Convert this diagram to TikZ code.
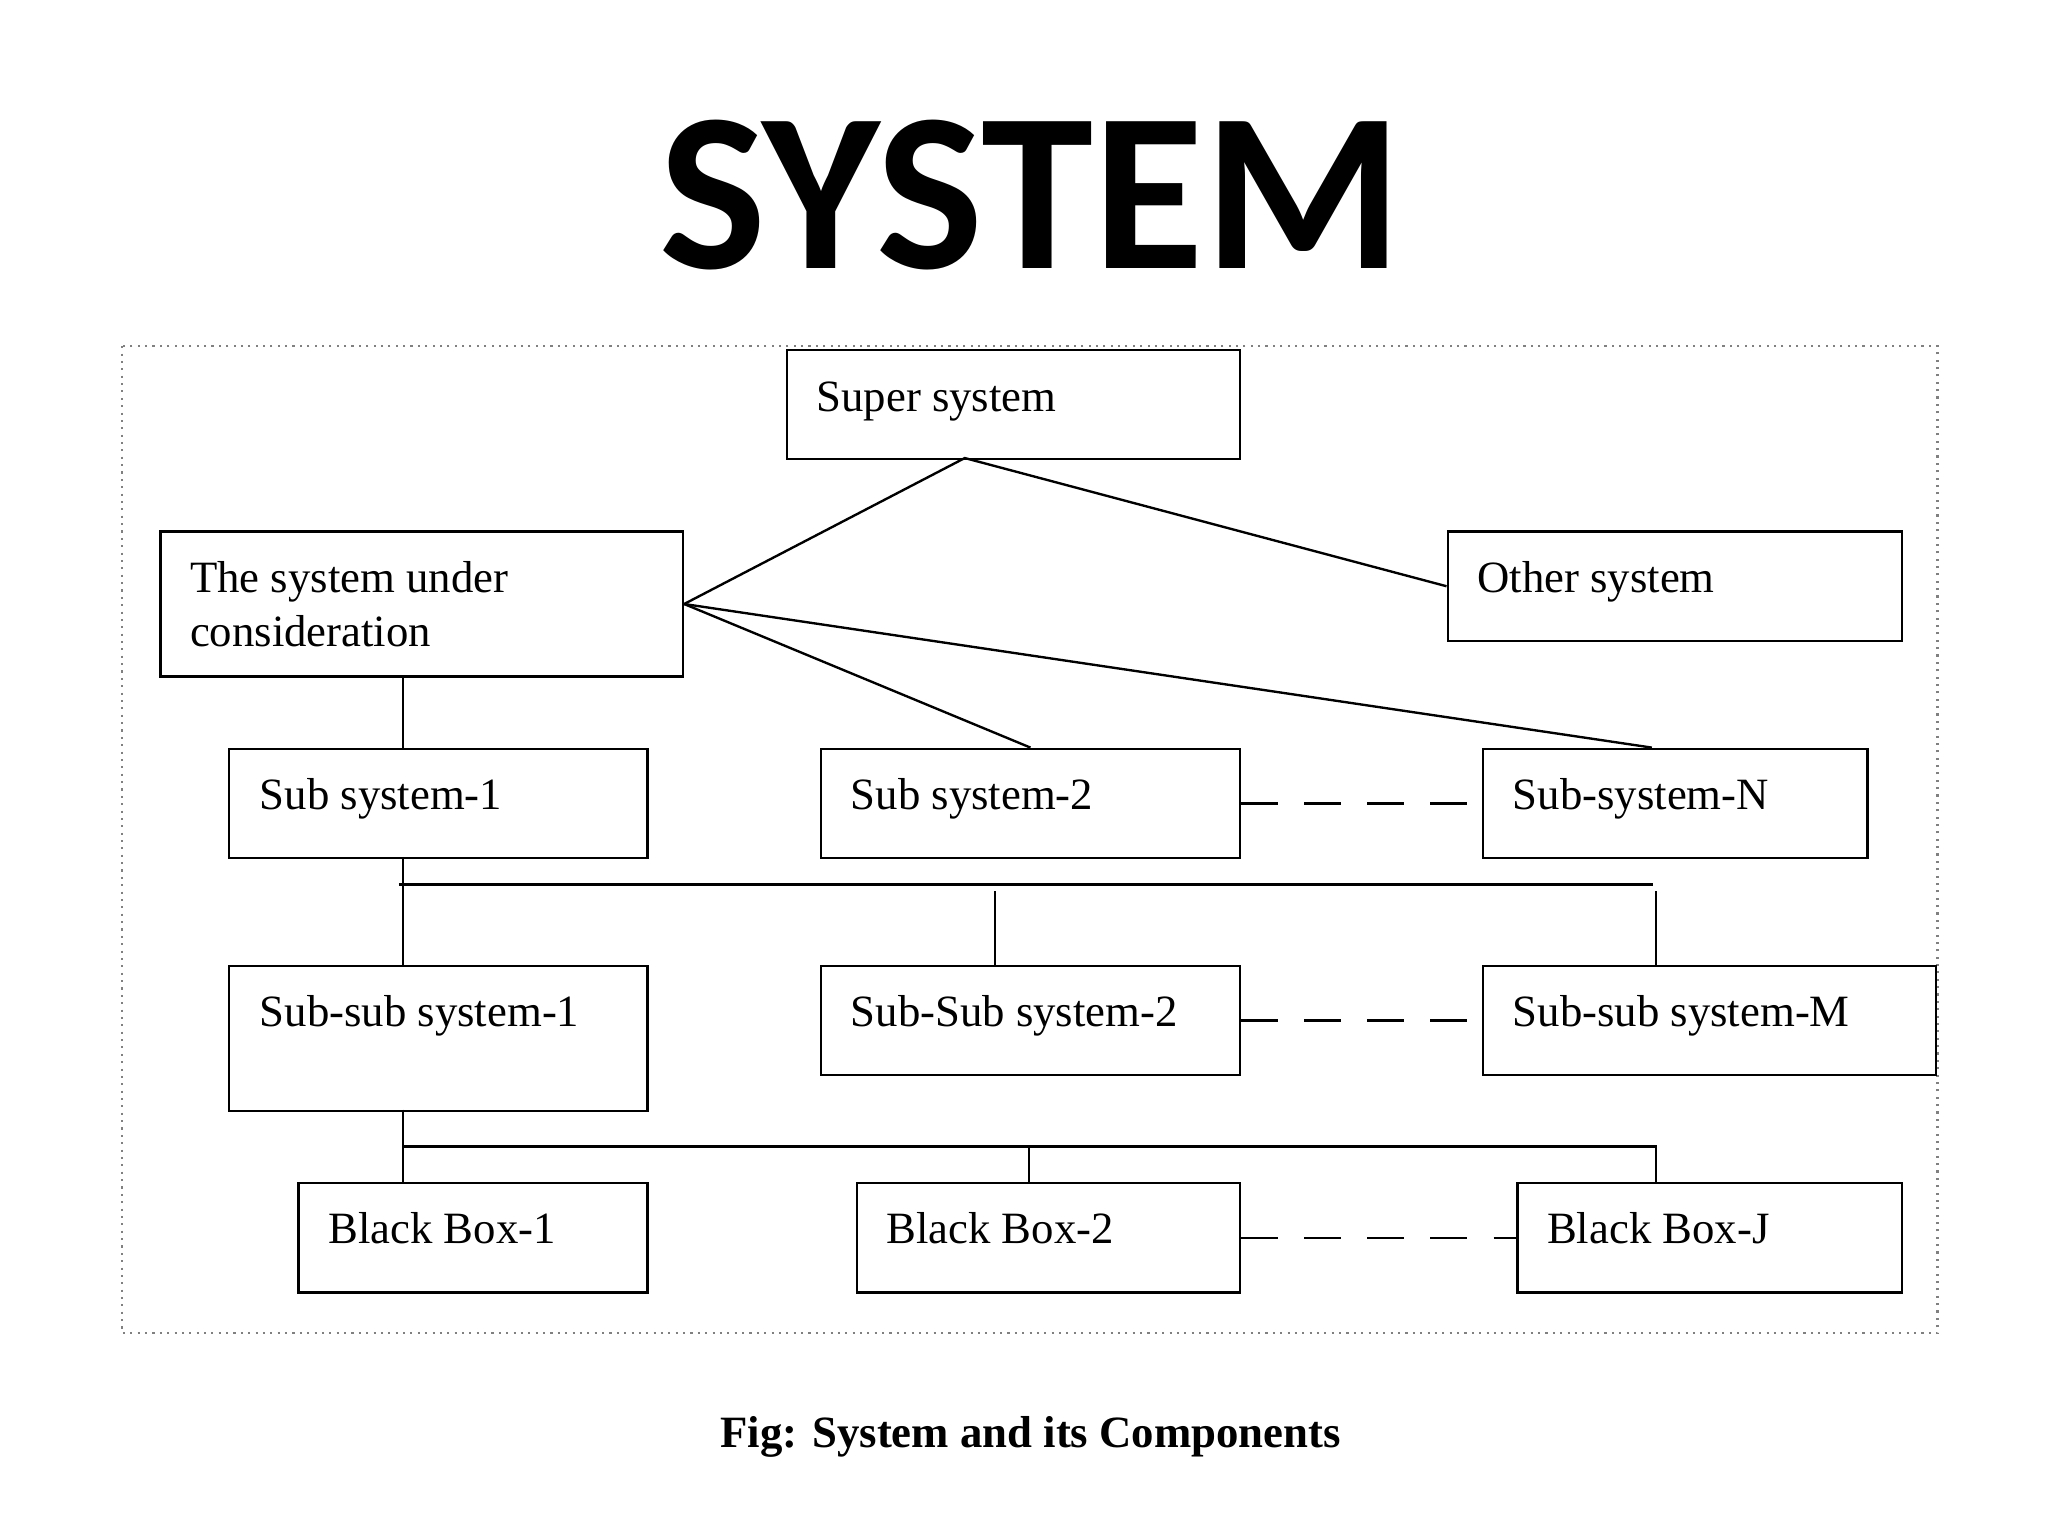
\documentclass[tikz,border=0pt]{standalone}
\usepackage{fontspec}
\setmainfont{Liberation Serif}
\newfontfamily\titlefont{Carlito}
\begin{document}
\begin{tikzpicture}[x=0.5pt,y=-0.5pt,
  box/.style={draw, line width=0.9pt, inner sep=0pt, anchor=north west},
  lbl/.style={anchor=base west, inner sep=0pt, font=\fontsize{17}{21}\selectfont},
  wire/.style={line width=0.9pt},
  gap/.style={wire, dash pattern=on 14pt off 10pt}]
\useasboundingbox (0,0) rectangle (1556,1167);

% title
\node (title) at (783,148) {\titlefont\bfseries\fontsize{86}{90}\selectfont SYSTEM};
% frame
\draw[gray, dotted, line width=0.8pt] (93,263) rectangle (1472,1013);

% boxes
\node[box, minimum width=172pt, minimum height=41.5pt] (super) at (597,265) {};
\node[box, minimum width=198.5pt, minimum height=55pt] (sys) at (121,403) {};
\node[box, minimum width=172.5pt, minimum height=41.5pt] (other) at (1099,403) {};
\node[box, minimum width=159pt, minimum height=41.5pt] (sub1) at (173,568) {};
\node[box, minimum width=159pt, minimum height=41.5pt] (sub2) at (623,568) {};
\node[box, minimum width=146pt, minimum height=41.5pt] (subN) at (1126,568) {};
\node[box, minimum width=159pt, minimum height=55pt] (ssub1) at (173,733) {};
\node[box, minimum width=159pt, minimum height=41.5pt] (ssub2) at (623,733) {};
\node[box, minimum width=172pt, minimum height=41.5pt] (ssubM) at (1126,733) {};
\node[box, minimum width=132.5pt, minimum height=41.5pt] (bb1) at (226,898) {};
\node[box, minimum width=145.5pt, minimum height=41.5pt] (bb2) at (650,898) {};
\node[box, minimum width=146pt, minimum height=41.5pt] (bbJ) at (1152,898) {};

% texts
\node[lbl] (superT) at (620,313) {Super system};
\node[lbl] (sysT) at (144,450) {The system under};
\node[lbl] (sysT2) at (144,491) {consideration};
\node[lbl] (otherT) at (1122,450) {Other system};
\node[lbl] (sub1T) at (197,615) {Sub system-1};
\node[lbl] (sub2T) at (646,615) {Sub system-2};
\node[lbl] (subNT) at (1149,615) {Sub-system-N};
\node[lbl] (ssub1T) at (197,780) {Sub-sub system-1};
\node[lbl] (ssub2T) at (646,780) {Sub-Sub system-2};
\node[lbl] (ssubMT) at (1149,780) {Sub-sub system-M};
\node[lbl] (bb1T) at (249,945) {Black Box-1};
\node[lbl] (bb2T) at (673,945) {Black Box-2};
\node[lbl] (bbJT) at (1175,945) {Black Box-J};

% junctions
\coordinate (supB) at (733,348);
\coordinate (sysB) at (306,513);
\coordinate (sub1B) at (306,651);
\coordinate (nTop) at (1255,568);
\coordinate (busL) at (303,672);
\coordinate (busR) at (1256,672);
\coordinate (bus2) at (756,677);
\coordinate (busM) at (1258,677);
\coordinate (ss2T) at (756,733);
\coordinate (ssMT) at (1258,733);
\coordinate (ss1B) at (306,843);
\coordinate (bbL) at (306,871);
\coordinate (bbR) at (1258,871);
\coordinate (bb2J) at (782,871);
\coordinate (bbJJ) at (1258,898);

% connectors
\draw[wire] (sys.east) -- (supB) -- (other.west);
\draw[wire] (sys.east) -- (sub2.north);
\draw[wire] (sys.east) -- (nTop);
\draw[wire] (sysB) -- (sysB |- sub1.north);
\draw[wire] (sub1B) -- (sub1B |- ssub1.north);
\draw[wire] (busL) -- (busR);
\draw[wire] (bus2) -- (ss2T);
\draw[wire] (busM) -- (ssMT);
\draw[wire] (ss1B) -- (ss1B |- bb1.north);
\draw[wire] (bbL) -- (bbR) -- (bbJJ);
\draw[wire] (bb2J) -- (bb2J |- bb2.north);
\draw[gap] (sub2.east) -- (subN.west);
\draw[gap] (ssub2.east) -- (ssubM.west);
\draw[gap] (bb2.east) -- (bbJ.west);

% caption
\node (caption) at (783,1092) {\bfseries\fontsize{17}{20}\selectfont Fig: System and its Components};
\end{tikzpicture}
\end{document}
